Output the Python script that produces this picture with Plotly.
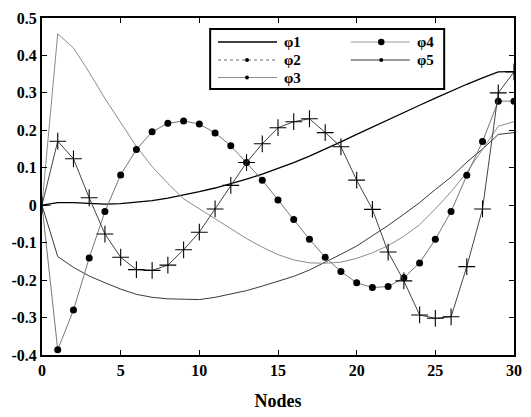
import plotly.graph_objects as go

# Mode shapes sampled at each node of the chain
nodes = list(range(31))

phi1 = [0.000, 0.007, 0.007, 0.005, 0.003, 0.004, 0.007, 0.012, 0.019, 0.027,
        0.036, 0.046, 0.057, 0.070, 0.083, 0.098, 0.114, 0.131, 0.149, 0.169,
        0.189, 0.209, 0.229, 0.248, 0.267, 0.286, 0.305, 0.323, 0.340, 0.356, 0.357]

phi2 = [0.000, -0.137, -0.166, -0.189, -0.207, -0.224, -0.238, -0.246, -0.250, -0.252,
        -0.252, -0.246, -0.238, -0.228, -0.216, -0.204, -0.190, -0.173, -0.153, -0.131,
        -0.109, -0.082, -0.054, -0.024, 0.007, 0.042, 0.075, 0.115, 0.150, 0.189, 0.194]

phi3 = [0.000, 0.458, 0.420, 0.355, 0.285, 0.222, 0.157, 0.103, 0.058, 0.017,
        -0.010, -0.037, -0.063, -0.089, -0.112, -0.132, -0.146, -0.154, -0.155, -0.152,
        -0.142, -0.127, -0.108, -0.083, -0.052, -0.010, 0.036, 0.088, 0.149, 0.211, 0.223]

phi4 = [0.000, -0.386, -0.280, -0.141, -0.017, 0.081, 0.149, 0.196, 0.219, 0.225,
        0.217, 0.193, 0.159, 0.114, 0.067, 0.014, -0.038, -0.091, -0.139, -0.177,
        -0.207, -0.220, -0.217, -0.194, -0.154, -0.091, -0.017, 0.080, 0.170, 0.278, 0.278]

phi5 = [0.000, 0.171, 0.124, 0.020, -0.077, -0.139, -0.172, -0.174, -0.160, -0.119,
        -0.072, -0.010, 0.053, 0.114, 0.164, 0.207, 0.223, 0.231, 0.194, 0.156,
        0.067, -0.011, -0.125, -0.202, -0.293, -0.302, -0.298, -0.164, -0.010, 0.300, 0.356]

series_names = ["φ1", "φ2", "φ3", "φ4", "φ5"]

x_ticks = [0, 5, 10, 15, 20, 25, 30]
x_ticktext = ["0", "5", "10", "15", "20", "25", "30"]
y_ticks = [-0.4, -0.3, -0.2, -0.1, 0.0, 0.1, 0.2, 0.3, 0.4, 0.5]
y_ticktext = ["-0.4", "-0.3", "-0.2", "-0.1", "0", "0.1", "0.2", "0.3", "0.4", "0.5"]

FONT = "Liberation Serif"
W, H = 531, 417
ML, MR, MT, MB = 42, 9, 18, 62
PW, PH = W - ML - MR, H - MT - MB

fig = go.Figure()

# Curves drawn on the axes
fig.add_trace(go.Scatter(x=nodes, y=phi1, mode="lines",
                         line=dict(color="#000000", width=1.3)))
fig.add_trace(go.Scatter(x=nodes, y=phi2, mode="lines",
                         line=dict(color="#3a3a3a", width=1.0)))
fig.add_trace(go.Scatter(x=nodes, y=phi3, mode="lines",
                         line=dict(color="#8c8c8c", width=1.0)))
fig.add_trace(go.Scatter(x=nodes, y=phi4, mode="lines",
                         line=dict(color="#777777", width=1.0)))
fig.add_trace(go.Scatter(x=nodes[1:], y=phi4[1:], mode="markers",
                         marker=dict(color="#000000", size=7, symbol="circle")))
fig.add_trace(go.Scatter(x=nodes, y=phi5, mode="lines+markers",
                         line=dict(color="#444444", width=1.0),
                         marker=dict(symbol="cross-thin", size=12,
                                     line=dict(color="#000000", width=1.1))))


def px_x(v):
    return (v - ML) / PW


def px_y(v):
    return (H - MB - v) / PH


# Key box with two columns of entries
shapes = [dict(type="rect", xref="paper", yref="paper",
               x0=px_x(213), x1=px_x(451), y0=px_y(89), y1=px_y(29),
               line=dict(color="black", width=2), fillcolor="white", layer="above")]
annotations = []

key_rows = [42, 60, 77.5, 42, 60]
key_cols = [(221, 281), (221, 281), (221, 281), (356, 416), (356, 416)]
key_colors = ["#000000", "#666666", "#8c8c8c", "#9a9a9a", "#333333"]
key_widths = [1.3, 1.0, 1.0, 1.0, 1.0]
key_dash = ["solid", "dot", "solid", "solid", "solid"]
key_marker_r = [0, 2, 2, 3.3, 2]

for name, row, (c0, c1), col, lw, dash, r in zip(series_names, key_rows, key_cols,
                                                key_colors, key_widths, key_dash, key_marker_r):
    shapes.append(dict(type="line", xref="paper", yref="paper",
                       x0=px_x(c0), x1=px_x(c1), y0=px_y(row), y1=px_y(row),
                       line=dict(color=col, width=lw, dash=dash), layer="above"))
    if r > 0:
        cx = (c0 + c1) / 2 + (1 if c0 > 300 else -0.5)
        shapes.append(dict(type="circle", xref="paper", yref="paper",
                           x0=px_x(cx - r), x1=px_x(cx + r),
                           y0=px_y(row + r), y1=px_y(row - r),
                           line=dict(color="black", width=0), fillcolor="black",
                           layer="above"))
    annotations.append(dict(xref="paper", yref="paper", x=px_x(c1 + 6), y=px_y(row),
                            xanchor="left", yanchor="middle", showarrow=False,
                            text="<b>%s</b>" % name, borderpad=0,
                            font=dict(family=FONT, size=15, color="black")))

axis_common = dict(
    showline=True, linecolor="black", linewidth=2, mirror="ticks",
    ticks="inside", ticklen=5, tickwidth=1, tickcolor="black",
    showgrid=False, zeroline=False,
    tickfont=dict(family=FONT, size=16, color="black"),
)

fig.update_xaxes(range=[0, 30], tickvals=x_ticks,
                 ticktext=["<b>%s</b>" % t for t in x_ticktext],
                 title=dict(text="<b>Nodes</b>", font=dict(family=FONT, size=18, color="black"),
                            standoff=16),
                 **axis_common)
fig.update_yaxes(range=[-0.4, 0.5], tickvals=y_ticks,
                 ticktext=["<b>%s</b>" % t for t in y_ticktext],
                 **axis_common)

fig.update_layout(
    width=W, height=H,
    margin=dict(l=ML, r=MR, t=MT, b=MB),
    paper_bgcolor="white", plot_bgcolor="white",
    showlegend=False,
    shapes=shapes,
    annotations=annotations,
)

fig.write_html("out.html")
